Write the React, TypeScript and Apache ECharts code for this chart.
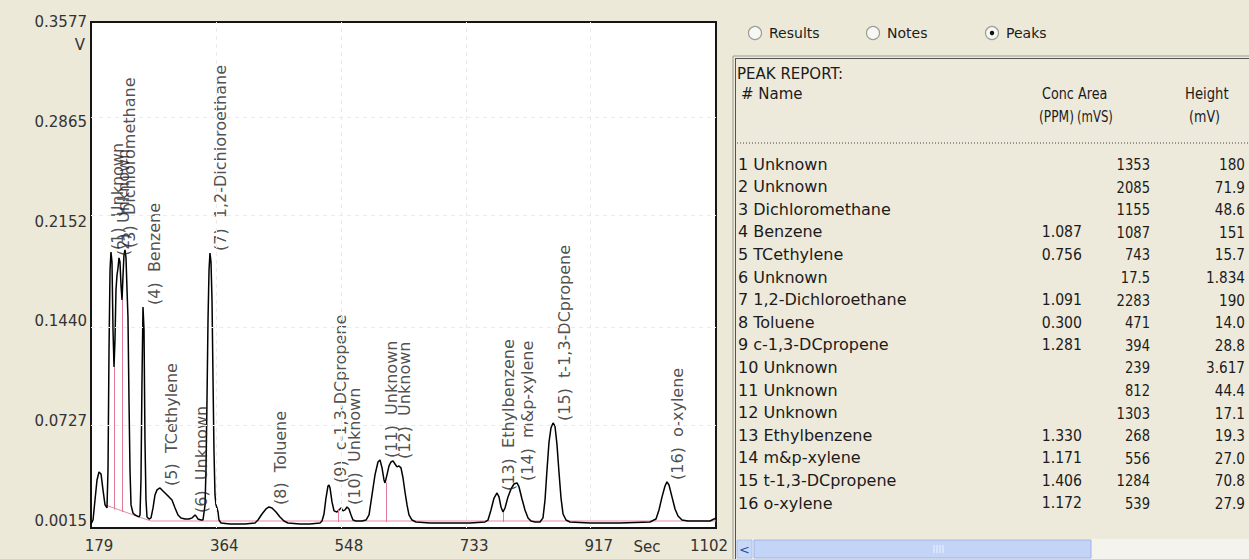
import React, { useEffect, useRef } from "react";
import * as echarts from "echarts";

// ---------- data ----------
const xTickLabels = [179, 364, 548, 733, 917, 1102];
const yTickLabels = [0.0015, 0.0727, 0.144, 0.2152, 0.2865, 0.3577];

// chromatogram trace: [time (s), signal (V)]
const signal: [number, number][] = [
  [179.0, -0.0006], [182.0, 0.0022], [184.9, 0.0165], [187.9, 0.0308], [190.8, 0.0365],
  [193.8, 0.0351], [196.7, 0.0237], [199.7, 0.013], [202.6, 0.0108], [204.1, 0.0379],
  [205.6, 0.1236], [207.1, 0.1807], [208.5, 0.1935], [210.0, 0.1864], [211.5, 0.1379],
  [213.0, 0.1115], [214.4, 0.1307], [215.9, 0.1664], [217.4, 0.1771], [218.9, 0.1821],
  [220.3, 0.1893], [221.8, 0.1864], [223.3, 0.17], [224.8, 0.1593], [226.3, 0.1771],
  [227.7, 0.1914], [229.2, 0.195], [230.7, 0.1893], [232.2, 0.1664], [233.6, 0.1471],
  [235.1, 0.0879], [236.6, 0.0379], [238.1, 0.013], [241.0, 0.0072], [244.0, 0.0058],
  [246.9, 0.0051], [249.9, 0.0044], [251.4, 0.0058], [252.8, 0.0308], [254.3, 0.1022],
  [255.8, 0.1543], [257.3, 0.1379], [258.7, 0.0593], [260.2, 0.0165], [261.7, 0.0044],
  [264.7, 0.0029], [267.6, 0.0037], [270.6, 0.0108], [273.5, 0.0201], [276.5, 0.0237],
  [280.9, 0.0251], [285.3, 0.0229], [289.8, 0.0208], [294.2, 0.0187], [298.6, 0.0165],
  [303.1, 0.0108], [307.5, 0.0058], [311.9, 0.0037], [317.8, 0.0029], [323.7, 0.0029],
  [328.2, 0.0037], [331.1, 0.0051], [332.6, 0.0058], [334.1, 0.0051], [337.0, 0.0029],
  [341.4, 0.0022], [344.4, 0.0022], [347.4, 0.013], [348.8, 0.0379], [350.3, 0.0879],
  [351.8, 0.145], [353.3, 0.1807], [354.7, 0.1928], [356.2, 0.1864], [357.7, 0.1593],
  [359.2, 0.1022], [360.6, 0.0522], [362.1, 0.0201], [363.6, 0.013], [365.1, 0.0108],
  [366.6, 0.0079], [368.0, 0.0022], [371.0, 0.0001], [384.3, -0.0006], [406.4, -0.0006],
  [421.2, 0.0001], [425.6, 0.0022], [431.5, 0.0065], [437.4, 0.0101], [441.9, 0.0115],
  [446.3, 0.0108], [452.2, 0.0079], [458.1, 0.0044], [464.0, 0.0015], [469.9, 0.0001],
  [487.7, -0.0006], [502.4, -0.0006], [517.2, 0.0001], [520.1, 0.0015], [523.1, 0.0065],
  [526.0, 0.0179], [529.0, 0.0265], [530.5, 0.0272], [532.0, 0.0251], [534.9, 0.0151],
  [537.9, 0.0087], [542.3, 0.0079], [545.2, 0.0094], [548.2, 0.0108], [551.2, 0.0087],
  [554.1, 0.0094], [557.1, 0.0115], [560.0, 0.0101], [563.0, 0.0058], [565.9, 0.0022],
  [570.4, 0.0015], [579.2, 0.0015], [585.1, 0.0022], [589.6, 0.0058], [594.0, 0.0201],
  [598.4, 0.0344], [602.8, 0.0436], [605.8, 0.0451], [608.8, 0.0394], [611.7, 0.0308],
  [613.2, 0.0287], [616.1, 0.0344], [619.1, 0.0408], [622.0, 0.0436], [625.0, 0.0444],
  [628.0, 0.0422], [630.9, 0.0401], [633.9, 0.0408], [636.8, 0.0394], [639.8, 0.0322],
  [642.7, 0.0222], [645.7, 0.013], [648.6, 0.0058], [653.1, 0.0022], [659.0, 0.0008],
  [679.6, 0.0001], [709.2, 0.0001], [738.7, 0.0001], [760.9, 0.0008], [765.3, 0.0022],
  [769.7, 0.0094], [774.2, 0.0179], [778.6, 0.0215], [781.5, 0.0187], [784.5, 0.0115],
  [787.4, 0.0079], [790.4, 0.0108], [794.8, 0.0187], [799.3, 0.0244], [803.7, 0.0279],
  [808.1, 0.0287], [811.1, 0.0258], [815.5, 0.0172], [819.9, 0.0094], [824.4, 0.0037],
  [828.8, 0.0015], [834.7, 0.0008], [842.1, 0.0008], [846.5, 0.0037], [849.5, 0.0165],
  [852.4, 0.0379], [855.4, 0.0579], [858.3, 0.0679], [861.3, 0.0715], [864.2, 0.0693],
  [867.2, 0.0558], [870.1, 0.0365], [873.1, 0.0179], [876.1, 0.0065], [880.5, 0.0022],
  [886.4, 0.0008], [915.9, 0.0001], [960.2, 0.0001], [1004.5, 0.0008], [1013.4, 0.0029],
  [1017.8, 0.0094], [1022.3, 0.0187], [1026.7, 0.0265], [1029.6, 0.0294], [1032.6, 0.0272],
  [1037.0, 0.0187], [1041.5, 0.0101], [1045.9, 0.0051], [1051.8, 0.0022], [1060.6, 0.0015],
  [1078.4, 0.0015], [1093.1, 0.0015], [1099.1, 0.0029], [1102.0, 0.0037],
];

// integration baseline (pink)
const baselineTrace: [number, number][] = [
  [199.7, 0.013], [267.1, 0.0015], [1102.0, 0.0015],
];
// peak drop lines (pink)
const dropTimes = [213.0, 224.8, 543.8, 614.5, 787.4];
const dropTops = [0.1115, 0.1593, 0.0094, 0.029, 0.0079];
const dropBottoms = [0.0097, 0.0079, 0.0008, 0.0008, 0.0008];

// peak annotations
const peakNames = [
  "Unknown", "Unknown", "Dichloromethane", "Benzene", "TCethylene", "Unknown",
  "1,2-Dichloroethane", "Toluene", "c-1,3-DCpropene", "Unknown", "Unknown", "Unknown",
  "Ethylbenzene", "m&p-xylene", "t-1,3-DCpropene", "o-xylene",
];
const peakApexTime = [208.5, 220.3, 229.2, 255.8, 280.9, 332.6, 354.7, 441.9, 530.5, 557.1, 605.8, 625.0, 778.6, 808.1, 861.3, 1029.6];
const peakApexValue = [0.1935, 0.1893, 0.195, 0.1543, 0.0251, 0.0058, 0.1928, 0.0115, 0.0272, 0.0115, 0.0451, 0.0444, 0.0215, 0.0287, 0.0715, 0.0294];

// peak report table
const reportNames = [
  "Unknown", "Unknown", "Dichloromethane", "Benzene", "TCethylene", "Unknown",
  "1,2-Dichloroethane", "Toluene", "c-1,3-DCpropene", "Unknown", "Unknown", "Unknown",
  "Ethylbenzene", "m&p-xylene", "t-1,3-DCpropene", "o-xylene",
];
const concValues = ["", "", "", "1.087", "0.756", "", "1.091", "0.300", "1.281", "", "", "", "1.330", "1.171", "1.406", "1.172"];
const areaValues = ["1353", "2085", "1155", "1087", "743", "17.5", "2283", "471", "394", "239", "812", "1303", "268", "556", "1284", "539"];
const heightValues = ["180", "71.9", "48.6", "151", "15.7", "1.834", "190", "14.0", "28.8", "3.617", "44.4", "17.1", "19.3", "27.0", "70.8", "27.9"];

// ---------- styling ----------
const FONT = "DejaVu Sans";
const labelDx = [7, 5, 5, 11, 11, 6, 11, 11, 11, 7, 11, 11, 11, 11, 11, 11];

function buildGraphics() {
  const g: any[] = [];
  const txt = (text: string, x: number, y: number, size: number, align = "left", color = "#1b1b1b", sx = 1) => ({
    type: "text",
    silent: true,
    x, y, scaleX: sx,
    style: { text, x: 0, y: 0, fontFamily: FONT, fontSize: size, fill: color, align, verticalAlign: "middle" },
  });
  // panel
  g.push({ type: "rect", silent: true, shape: { x: 733, y: 56, width: 520, height: 510 }, style: { fill: "#EEEADB", stroke: "#9A9A92", lineWidth: 1 } });
  g.push({ type: "line", silent: true, shape: { x1: 735.5, y1: 58, x2: 735.5, y2: 559 }, style: { stroke: "#55554F", lineWidth: 1 } });
  g.push({ type: "line", silent: true, shape: { x1: 735, y1: 58.5, x2: 1249, y2: 58.5 }, style: { stroke: "#55554F", lineWidth: 1 } });
  // radio buttons
  const radios = [
    { cx: 755, label: "Results", on: false },
    { cx: 873, label: "Notes", on: false },
    { cx: 992, label: "Peaks", on: true },
  ];
  radios.forEach((r) => {
    g.push({ type: "circle", silent: true, shape: { cx: r.cx, cy: 33, r: 6.5 }, style: { fill: "#F7F7F3", stroke: "#9E9E98", lineWidth: 1.2 } });
    if (r.on) g.push({ type: "circle", silent: true, shape: { cx: r.cx, cy: 33, r: 2.2 }, style: { fill: "#111" } });
    g.push(txt(r.label, r.cx + 14, 33, 14));
  });
  // header
  g.push(txt("PEAK REPORT:", 737, 74, 15));
  g.push(txt("# Name", 741, 94, 15));
  g.push(txt("Conc", 1042, 94, 15, "left", "#1b1b1b", 0.85));
  g.push(txt("Area", 1078, 94, 15, "left", "#1b1b1b", 0.85));
  g.push(txt("Height", 1185, 94, 15, "left", "#1b1b1b", 0.88));
  g.push(txt("(PPM)", 1039, 117, 15, "left", "#1b1b1b", 0.82));
  g.push(txt("(mVS)", 1077, 117, 15, "left", "#1b1b1b", 0.78));
  g.push(txt("(mV)", 1189, 117, 15, "left", "#1b1b1b", 0.85));
  g.push({ type: "line", silent: true, shape: { x1: 737, y1: 143, x2: 1249, y2: 143 }, style: { stroke: "#444", lineWidth: 1, lineDash: [1, 2] } });
  // rows
  reportNames.forEach((n, i) => {
    const y = 164 + i * 22.6;
    g.push(txt(`${i + 1} ${n}`, 738, y, 16));
    if (concValues[i]) g.push(txt(concValues[i], 1082, y, 16, "right", "#1b1b1b", 0.88));
    g.push(txt(areaValues[i], 1150, y, 16, "right", "#1b1b1b", 0.82));
    g.push(txt(heightValues[i], 1245, y, 16, "right", "#1b1b1b", 0.85));
  });
  // scrollbar
  g.push({ type: "rect", silent: true, shape: { x: 736, y: 539, width: 513, height: 20 }, style: { fill: "#F4F3EE" } });
  g.push({ type: "rect", silent: true, shape: { x: 737, y: 540, width: 15, height: 18 }, style: { fill: "#C9D8F6", stroke: "#A8BEEB" } });
  g.push(txt("<", 744.5, 549, 13, "center", "#2B4FA8"));
  g.push({ type: "rect", silent: true, shape: { x: 754, y: 540, width: 337, height: 18 }, style: { fill: "#C3D4F7", stroke: "#9DB4E6" } });
  [934, 937, 940, 943].forEach((x) =>
    g.push({ type: "line", silent: true, shape: { x1: x, y1: 545, x2: x, y2: 553 }, style: { stroke: "#EEF3FF", lineWidth: 1 } })
  );
  // axis unit texts
  g.push(txt("V", 85, 45, 15, "right", "#333"));
  g.push(txt("Sec", 647, 547, 15, "center", "#333"));
  return g;
}

const axisFont = { fontFamily: FONT, fontSize: 15, color: "#333" };

const option: any = {
  animation: false,
  backgroundColor: "#ECE9D8",
  grid: {
    left: 91, top: 22, width: 625, height: 506, show: true,
    backgroundColor: "#FFFFFF", borderColor: "#151515", borderWidth: 2,
  },
  xAxis: {
    type: "value", min: 179, max: 1102,
    axisLine: { show: false }, axisTick: { show: false }, splitLine: { show: false },
    axisLabel: {
      customValues: xTickLabels, margin: 10, ...axisFont,
      formatter: (v: number) => (v === 1102 ? `{e|${v}}` : `{n|${v}}`),
      rich: { n: { ...axisFont, padding: [0, 0, 0, 16] }, e: { ...axisFont, padding: [0, 14, 0, 0] } },
    },
  },
  yAxis: {
    type: "value", min: -0.0035, max: 0.3577,
    axisLine: { show: false }, axisTick: { show: false }, splitLine: { show: false },
    axisLabel: { customValues: yTickLabels, margin: 4, ...axisFont, formatter: (v: number) => v.toFixed(4) },
  },
  series: [
    {
      type: "line", data: baselineTrace, symbol: "none", silent: true, z: 2,
      lineStyle: { color: "#E58AA5", width: 1 },
      markLine: {
        silent: true, symbol: "none", label: { show: false },
        lineStyle: { color: "#E07A98", width: 1, type: "solid" },
        data: dropTimes.map((t, i) => [{ coord: [t, dropTops[i]] }, { coord: [t, dropBottoms[i]] }]),
      },
    },
    {
      type: "line", data: signal, symbol: "none", z: 3,
      lineStyle: { color: "#000", width: 1.5 },
      markLine: {
        silent: true, symbol: "none", label: { show: false },
        lineStyle: { color: "#EBEBEB", width: 1, type: [4, 4] },
        data: [
          ...yTickLabels.slice(1, 5).map((v) => ({ yAxis: v })),
          ...xTickLabels.slice(1, 5).map((v) => ({ xAxis: v })),
        ],
      },
    },
    {
      type: "scatter", symbolSize: 0, z: 4, silent: true,
      data: peakNames.map((n, i) => ({
        name: `(${i + 1})  ${n}`,
        value: [peakApexTime[i], peakApexValue[i]],
        label: { offset: [0, labelDx[i]] },
      })),
      label: {
        show: true, position: "top", distance: 2, rotate: 90,
        align: "left", verticalAlign: "middle",
        fontFamily: FONT, fontSize: 16, color: "#222",
        formatter: (p: any) => p.name,
      },
    },
  ],
  graphic: buildGraphics(),
};

export default function App() {
  const ref = useRef<HTMLDivElement>(null);
  useEffect(() => {
    const chart = echarts.init(ref.current!, null, { renderer: "svg" });
    chart.setOption(option);
    return () => chart.dispose();
  }, []);
  return <div ref={ref} style={{ position: "fixed", left: 0, top: 0, width: 1249, height: 559 }} />;
}
